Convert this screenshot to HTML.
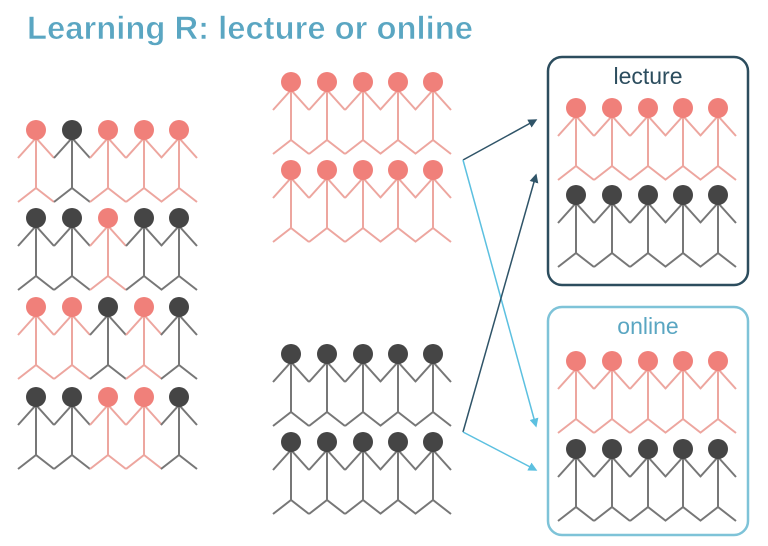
<!DOCTYPE html>
<html><head><meta charset="utf-8"><style>body{margin:0;background:#fff}svg{display:block}</style></head><body>
<svg width="768" height="546" viewBox="0 0 768 546" xmlns="http://www.w3.org/2000/svg">
<defs>
<g id="p"><path d="M-18,28 L0,8 L18,28 M0,8 V58 M-18,72 L0,58 L18,72" fill="none" stroke="#eda69f" stroke-width="2"/><circle r="10" fill="#f0807a"/></g>
<g id="k"><path d="M-18,28 L0,8 L18,28 M0,8 V58 M-18,72 L0,58 L18,72" fill="none" stroke="#777" stroke-width="2"/><circle r="10" fill="#454545"/></g>
<g id="prow"><use href="#p" x="0"/><use href="#p" x="36"/><use href="#p" x="72"/><use href="#p" x="107"/><use href="#p" x="142"/></g>
<g id="krow"><use href="#k" x="0"/><use href="#k" x="36"/><use href="#k" x="72"/><use href="#k" x="107"/><use href="#k" x="142"/></g>
<marker id="ad" markerWidth="6" markerHeight="6" refX="5" refY="3" orient="auto"><path d="M0,0 L6,3 L0,6 z" fill="#2f5468"/></marker>
<marker id="ab" markerWidth="6" markerHeight="6" refX="5" refY="3" orient="auto"><path d="M0,0 L6,3 L0,6 z" fill="#5cc0e0"/></marker>
</defs>
<text x="27" y="39" font-family="Liberation Sans, sans-serif" font-weight="bold" font-size="32" fill="#5aa6c2" stroke="#fff" stroke-width="0.6" textLength="446" lengthAdjust="spacingAndGlyphs">Learning R: lecture or online</text>

<g transform="translate(36,130)"><use href="#p" x="0"/><use href="#k" x="36"/><use href="#p" x="72"/><use href="#p" x="108"/><use href="#p" x="143"/></g>
<g transform="translate(36,218)"><use href="#k" x="0"/><use href="#k" x="36"/><use href="#p" x="72"/><use href="#k" x="108"/><use href="#k" x="143"/></g>
<g transform="translate(36,307)"><use href="#p" x="0"/><use href="#p" x="36"/><use href="#k" x="72"/><use href="#p" x="108"/><use href="#k" x="143"/></g>
<g transform="translate(36,397)"><use href="#k" x="0"/><use href="#k" x="36"/><use href="#p" x="72"/><use href="#p" x="108"/><use href="#k" x="143"/></g>

<use href="#prow" x="291" y="82"/>
<use href="#prow" x="291" y="170"/>
<use href="#krow" x="291" y="354"/>
<use href="#krow" x="291" y="442"/>

<line x1="463" y1="160" x2="536" y2="120" stroke="#2f5468" stroke-width="1.5" marker-end="url(#ad)"/>
<line x1="463" y1="160" x2="536" y2="426" stroke="#5cc0e0" stroke-width="1.5" marker-end="url(#ab)"/>
<line x1="463" y1="432" x2="536" y2="175" stroke="#2f5468" stroke-width="1.5" marker-end="url(#ad)"/>
<line x1="463" y1="432" x2="536" y2="470" stroke="#5cc0e0" stroke-width="1.5" marker-end="url(#ab)"/>

<rect x="548" y="57" width="200" height="228" rx="14" fill="none" stroke="#2c4d5e" stroke-width="2.5"/>
<text x="648" y="84" text-anchor="middle" font-family="Liberation Sans, sans-serif" font-size="23" fill="#2c4d5e">lecture</text>
<use href="#prow" x="576" y="108"/>
<use href="#krow" x="576" y="195"/>

<rect x="548" y="307" width="200" height="228" rx="14" fill="none" stroke="#7ec3d8" stroke-width="2.5"/>
<text x="648" y="334" text-anchor="middle" font-family="Liberation Sans, sans-serif" font-size="23" fill="#5aa6c2">online</text>
<use href="#prow" x="576" y="361"/>
<use href="#krow" x="576" y="449"/>
</svg>
</body></html>
